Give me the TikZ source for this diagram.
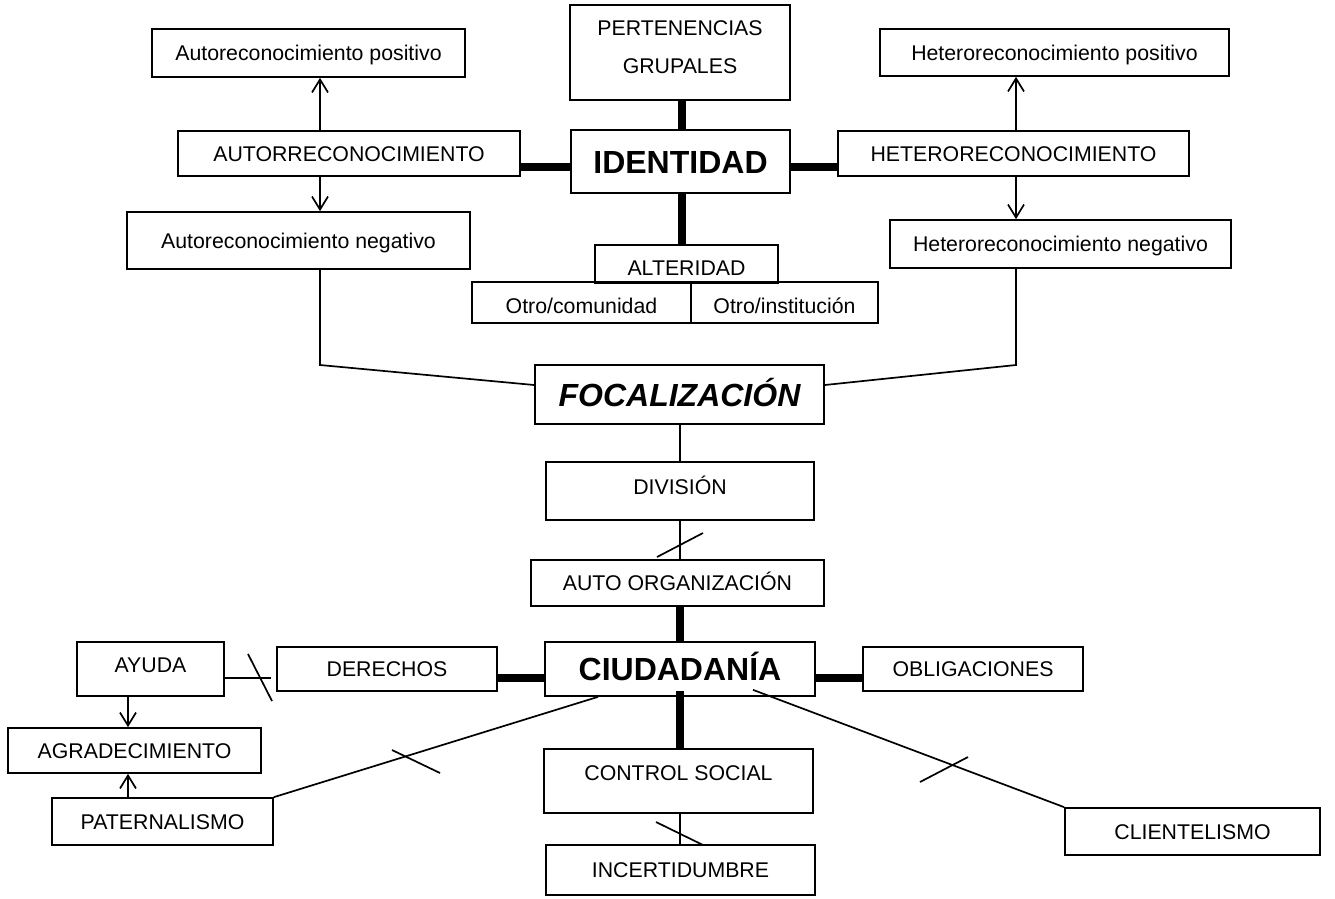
\documentclass[tikz,border=0pt]{standalone}
\usepackage{fontspec}
\setmainfont{Liberation Sans}
\usetikzlibrary{arrows.meta}
\begin{document}
\begin{tikzpicture}[x=1pt,y=-1pt,
  boxbase/.style={draw, line width=1.7pt, inner sep=0pt, align=center,
    font=\fontsize{21.3}{24}\selectfont},
  box/.style={boxbase, text height=15pt, text depth=0pt},
  bigbox/.style={boxbase, font=\fontsize{32}{36}\selectfont\bfseries,
    text height=23pt, text depth=0pt},
  txt/.style={inner sep=0pt, align=center, font=\fontsize{21.3}{38}\selectfont},
  thinline/.style={line width=1.7pt},
  thickline/.style={line width=7.5pt},
  arr/.style={line width=1.7pt, -{Straight Barb[length=13pt,width=16pt,line width=1.7pt]}},
  slash/.style={line width=1.7pt}]
\useasboundingbox (0,0) rectangle (1335,898);

% ---- identity block ----
\node[box, minimum width=313pt, minimum height=48pt] (apos) at (308.5,53) {Autoreconocimiento positivo};
\node[boxbase, minimum width=220pt, minimum height=95pt] (pert) at (680,52.5) {};
\node[txt] (pertlbl) at (680,47) {PERTENENCIAS\\GRUPALES};
\node[bigbox, minimum width=219pt, minimum height=63pt] (idn) at (680.5,161.5) {IDENTIDAD};
\node[box, minimum width=342pt, minimum height=45pt] (autor) at (349,153.5) {AUTORRECONOCIMIENTO};
\node[box, minimum width=343pt, minimum height=57pt] (aneg) at (298.5,240.5) {Autoreconocimiento negativo};
\node[box, minimum width=349pt, minimum height=47pt] (hpos) at (1054.5,52.5) {Heteroreconocimiento positivo};
\node[box, minimum width=351pt, minimum height=45pt] (heter) at (1013.5,153.5) {HETERORECONOCIMIENTO};
\node[box, minimum width=341pt, minimum height=48pt] (hneg) at (1060.5,244) {Heteroreconocimiento negativo};
\node[box, text height=22pt, minimum width=183pt, minimum height=38pt] (alt) at (686.5,264) {ALTERIDAD};
\node[box, text height=22pt, minimum width=219pt, minimum height=41pt] (ocom) at (581.5,302.5) {Otro/comunidad};
\node[box, text height=22pt, minimum width=187pt, minimum height=41pt] (oins) at (784.5,302.5) {Otro/institución};

% ---- focalization block ----
\node[bigbox, font=\fontsize{32}{36}\selectfont\bfseries\itshape, minimum width=289pt, minimum height=59pt] (foc) at (679.5,394.5) {FOCALIZACIÓN};
\node[box, text depth=8pt, minimum width=268pt, minimum height=58pt] (div) at (680,491) {DIVISIÓN};
\node[box, minimum width=293pt, minimum height=46pt] (aorg) at (677.5,583) {AUTO ORGANIZACIÓN};

% ---- citizenship block ----
\node[bigbox, minimum width=270pt, minimum height=54pt] (ciu) at (680,669) {CIUDADANÍA};
\node[box, minimum width=220pt, minimum height=44pt] (der) at (387,669) {DERECHOS};
\node[box, minimum width=220pt, minimum height=44pt] (obl) at (973,669) {OBLIGACIONES};
\node[box, text depth=8pt, minimum width=147pt, minimum height=54pt] (ayu) at (150.5,669) {AYUDA};
\node[box, minimum width=253pt, minimum height=45pt] (agr) at (134.5,750.5) {AGRADECIMIENTO};
\node[box, minimum width=221pt, minimum height=47pt] (pat) at (162.5,821.5) {PATERNALISMO};
\node[box, text depth=16pt, minimum width=269pt, minimum height=64pt] (ctrl) at (678.5,781) {CONTROL SOCIAL};
\node[box, minimum width=269pt, minimum height=50pt] (inc) at (680.5,870) {INCERTIDUMBRE};
\node[box, minimum width=255pt, minimum height=47pt] (cli) at (1192.5,831.5) {CLIENTELISMO};

% ---- guide coordinates ----
\coordinate (axL) at (320,0);
\coordinate (axR) at (1016,0);
\coordinate (axA) at (128,0);
\coordinate (vx) at (682,0);
\coordinate (hy) at (0,167);
\coordinate (ky) at (0,365);
\coordinate (fy) at (0,385);
\coordinate (cy) at (0,678);

% ---- connectors: identity ----
\draw[arr] (autor.north -| axL) -- (apos.south -| axL);
\draw[arr] (autor.south -| axL) -- (aneg.north -| axL);
\draw[arr] (heter.north -| axR) -- (hpos.south -| axR);
\draw[arr] (heter.south -| axR) -- (hneg.north -| axR);
\draw[thickline] (autor.east |- hy) -- (idn.west |- hy);
\draw[thickline] (heter.west |- hy) -- (idn.east |- hy);
\draw[thickline] (pert.south -| vx) -- (idn.north -| vx);
\draw[thickline] (idn.south -| vx) -- (alt.north -| vx);

% ---- connectors: focalization ----
\draw[thinline] (aneg.south -| axL) -- (axL |- ky) -- (foc.west |- fy);
\draw[thinline] (hneg.south -| axR) -- (axR |- ky) -- (foc.east |- fy);
\draw[thinline] (foc.south -| div.north) -- (div.north);
\draw[thinline] (div.south) -- (aorg.north -| div.south);
\draw[slash] (657,557) -- (703,533);
\draw[thickline] (aorg.south -| ciu.north) -- (ciu.north);

% ---- connectors: citizenship ----
\draw[thickline] (der.east |- cy) -- (ciu.west |- cy);
\draw[thickline] (obl.west |- cy) -- (ciu.east |- cy);
\draw[thinline] (ayu.east |- cy) -- ([xshift=-5pt]der.west |- cy);
\draw[slash] (248,654) -- (272,701);
\draw[arr] (ayu.south -| axA) -- (agr.north -| axA);
\draw[arr] (pat.north -| axA) -- (agr.south -| axA);
\draw[thinline] (pat.north east) -- ([xshift=-82pt]ciu.south);
\draw[slash] (392,750) -- (440,773);
\draw[thickline] ([yshift=6pt]ciu.south) -- (ctrl.north -| ciu.south);
\draw[thinline] (ctrl.south -| ciu.south) -- (inc.north -| ciu.south);
\draw[slash] (656,822) -- (703,845);
\draw[thinline] ([xshift=73pt,yshift=7pt]ciu.south) -- (cli.north west);
\draw[slash] (920,782) -- (968,757);
\end{tikzpicture}
\end{document}
